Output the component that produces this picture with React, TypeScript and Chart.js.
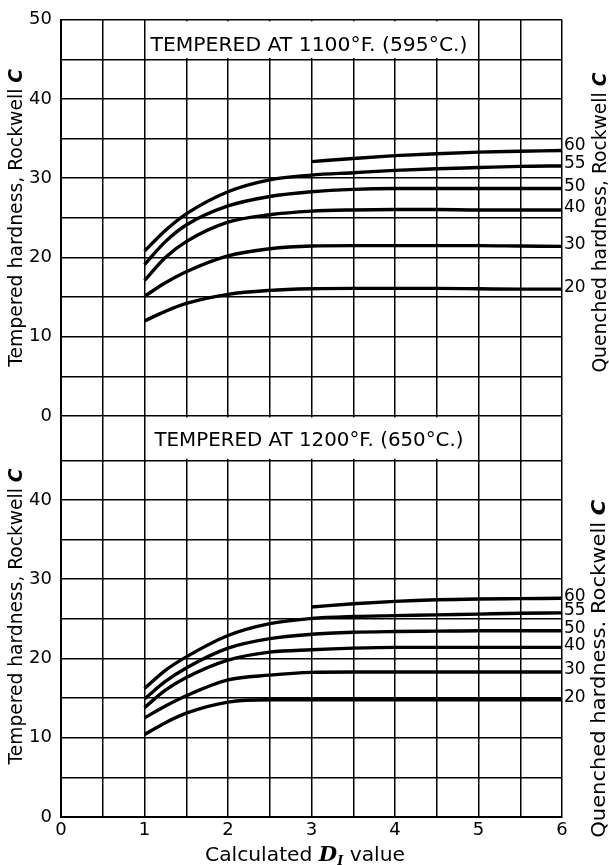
import React, { useEffect, useRef } from 'react';
import { Chart, registerables } from 'chart.js';

Chart.register(...registerables);

// ---------------- data ----------------
const DI_FULL = [1, 1.25, 1.5, 2, 2.5, 3, 3.5, 4, 4.5, 5, 5.5, 6];
const DI_HIGH = [3, 3.5, 4, 4.5, 5, 5.5, 6];
const QUENCHED = [60, 55, 50, 40, 30, 20];

// Tempered at 1100 F (595 C)
const T1100_Q60 = [32.1, 32.5, 32.85, 33.1, 33.3, 33.4, 33.5];
const T1100_Q55 = [20.8, 23.4, 25.5, 28.3, 29.8, 30.4, 30.7, 31.0, 31.2, 31.35, 31.5, 31.55];
const T1100_Q50 = [19.1, 22.0, 24.1, 26.5, 27.7, 28.3, 28.6, 28.7, 28.7, 28.7, 28.7, 28.7];
const T1100_Q40 = [17.1, 20.0, 22.0, 24.45, 25.4, 25.85, 26.0, 26.05, 26.05, 26.0, 26.0, 26.0];
const T1100_Q30 = [15.1, 16.8, 18.2, 20.2, 21.1, 21.45, 21.5, 21.5, 21.5, 21.5, 21.45, 21.4];
const T1100_Q20 = [12.0, 13.2, 14.2, 15.35, 15.85, 16.05, 16.1, 16.1, 16.1, 16.05, 16.0, 16.0];

// Tempered at 1200 F (650 C)
const T1200_Q60 = [26.5, 26.9, 27.2, 27.4, 27.5, 27.55, 27.6];
const T1200_Q55 = [16.2, 18.5, 20.2, 22.9, 24.4, 25.05, 25.3, 25.4, 25.5, 25.6, 25.7, 25.75];
const T1200_Q50 = [14.9, 17.1, 18.8, 21.3, 22.5, 23.05, 23.3, 23.4, 23.45, 23.5, 23.5, 23.5];
const T1200_Q40 = [13.8, 16.0, 17.6, 19.8, 20.8, 21.1, 21.3, 21.4, 21.4, 21.4, 21.4, 21.4];
const T1200_Q30 = [12.5, 14.0, 15.3, 17.3, 17.9, 18.25, 18.3, 18.3, 18.3, 18.3, 18.3, 18.3];
const T1200_Q20 = [10.4, 11.9, 13.1, 14.5, 14.8, 14.8, 14.8, 14.8, 14.8, 14.8, 14.8, 14.8];

const X_TICK_LABELS = [0, 1, 2, 3, 4, 5, 6];
const Y_TICK_LABELS_TOP = [0, 10, 20, 30, 40, 50];
const Y_TICK_LABELS_BOTTOM = [0, 10, 20, 30, 40];
const Y_GRID_TOP = [0, 5, 10, 15, 20, 25, 30, 35, 40, 45, 50];
const Y_GRID_BOTTOM = [0, 5, 10, 15, 20, 25, 30, 35, 40, 45];

const TITLE_1100 = 'TEMPERED AT 1100°F. (595°C.)';
const TITLE_1200 = 'TEMPERED AT 1200°F. (650°C.)';
const Y_TITLE = 'Tempered hardness, Rockwell ';
const RIGHT_TITLE_TOP = 'Quenched hardness, Rockwell ';
const RIGHT_TITLE_BOTTOM = 'Quenched hardness. Rockwell ';
const X_TITLE_A = 'Calculated ';
const X_TITLE_B = ' value';

// ---------------- styling ----------------
const INK = '#000';
const SANS = '"DejaVu Sans", "Liberation Sans", sans-serif';
const SERIF = '"DejaVu Serif", "Liberation Serif", serif';

type Run = { text: string; font: string; dy?: number };

function drawRuns(
  ctx: CanvasRenderingContext2D,
  runs: Run[],
  cx: number,
  cy: number,
  angle: number,
  target: number,
  shift: number
) {
  ctx.save();
  ctx.translate(cx, cy);
  ctx.rotate(angle);
  ctx.textAlign = 'left';
  ctx.textBaseline = 'alphabetic';
  ctx.fillStyle = INK;
  const widths = runs.map((r) => {
    ctx.font = r.font;
    return ctx.measureText(r.text).width;
  });
  const total = widths.reduce((a, b) => a + b, 0);
  const sx = target ? target / total : 1;
  ctx.scale(sx, 1);
  let pos = -total / 2;
  runs.forEach((r, i) => {
    ctx.font = r.font;
    ctx.fillText(r.text, pos, shift + (r.dy || 0));
    pos += widths[i];
  });
  ctx.restore();
}

const PANELS = [
  {
    axis: 'yTop',
    title: TITLE_1100,
    series: [T1100_Q60, T1100_Q55, T1100_Q50, T1100_Q40, T1100_Q30, T1100_Q20],
  },
  {
    axis: 'yBot',
    title: TITLE_1200,
    series: [T1200_Q60, T1200_Q55, T1200_Q50, T1200_Q40, T1200_Q30, T1200_Q20],
  },
];

const annotate = {
  id: 'annotate',
  beforeDatasetsDraw(chart: any) {
    const { ctx, scales } = chart;
    const xs = scales.x;
    const boxes = [
      { s: scales.yTop, title: TITLE_1100, mid: 47.0, width: 317 },
      { s: scales.yBot, title: TITLE_1200, mid: 47.7, width: 309 },
    ];
    boxes.forEach((b) => {
      const left = xs.getPixelForValue(1) + 1.5;
      const right = xs.getPixelForValue(4.96);
      const top = b.s.top + 1.5;
      const bottom = b.s.getPixelForValue(45) - 1.5;
      ctx.save();
      ctx.fillStyle = '#fff';
      ctx.fillRect(left, top, right - left, bottom - top);
      ctx.restore();
      drawRuns(
        ctx,
        [{ text: b.title, font: `19px ${SANS}` }],
        xs.getPixelForValue(2.97),
        b.s.getPixelForValue(b.mid),
        0,
        b.width,
        7
      );
    });
  },
  afterDatasetsDraw(chart: any) {
    const { ctx, scales, chartArea } = chart;
    // quenched hardness labels at line ends
    PANELS.forEach((p, pi) => {
      const s = scales[p.axis];
      p.series.forEach((arr, i) => {
        const last = arr[arr.length - 1];
        let y = s.getPixelForValue(last) - 2;
        if (pi === 0 && i === 0) y -= 3;
        ctx.save();
        ctx.fillStyle = INK;
        ctx.font = `17px ${SANS}`;
        ctx.textAlign = 'left';
        ctx.textBaseline = 'middle';
        ctx.fillText(String(QUENCHED[i]), chartArea.right + 2, y);
        ctx.restore();
      });
    });

    const yTop = scales.yTop;
    const yBot = scales.yBot;
    const boldC = (size: number) => ({ text: 'C', font: `bold italic ${size}px ${SANS}` });
    // left titles
    drawRuns(ctx, [{ text: Y_TITLE, font: `19px ${SANS}` }, boldC(19)], 15, (yTop.top + yTop.bottom) / 2, -Math.PI / 2, 298, 7);
    drawRuns(ctx, [{ text: Y_TITLE, font: `19px ${SANS}` }, boldC(19)], 15, (yBot.top + yBot.bottom) / 2, -Math.PI / 2, 296, 7);
    // right titles
    drawRuns(ctx, [{ text: RIGHT_TITLE_TOP, font: `19px ${SANS}` }, boldC(19)], 599, yTop.getPixelForValue(24.4), -Math.PI / 2, 300, 7);
    drawRuns(ctx, [{ text: RIGHT_TITLE_BOTTOM, font: `20px ${SANS}` }, boldC(20)], 598, yBot.getPixelForValue(18.7), -Math.PI / 2, 338, 7);
    // x title
    drawRuns(
      ctx,
      [
        { text: X_TITLE_A, font: `19px ${SANS}` },
        { text: 'D', font: `bold italic 20px ${SERIF}` },
        { text: 'I', font: `bold italic 12px ${SERIF}`, dy: 4 },
        { text: X_TITLE_B, font: `19px ${SANS}` },
      ],
      305,
      854,
      0,
      200,
      7
    );
  },
};

export default function App() {
  const canvasRef = useRef<HTMLCanvasElement | null>(null);

  useEffect(() => {
    if (!canvasRef.current) return;
    const datasets: any[] = [];
    PANELS.forEach((p) => {
      p.series.forEach((arr, i) => {
        const xs = QUENCHED[i] === 60 ? DI_HIGH : DI_FULL;
        datasets.push({
          label: `${p.title} Q${QUENCHED[i]}`,
          data: xs.map((x, k) => ({ x, y: arr[k] })),
          yAxisID: p.axis,
          xAxisID: 'x',
          borderColor: INK,
          borderWidth: 3.4,
          pointRadius: 0,
          fill: false,
          cubicInterpolationMode: 'monotone',
        });
      });
    });

    const gridOpts = { color: INK, lineWidth: 1.5, drawTicks: false };
    const tickFont = { family: SANS, size: 18 };

    const chart = new Chart(canvasRef.current, {
      type: 'line',
      data: { datasets },
      plugins: [annotate],
      options: {
        animation: false,
        responsive: false,
        maintainAspectRatio: false,
        layout: { padding: { top: 12, right: 47, left: 0, bottom: 0 } },
        plugins: { legend: { display: false }, tooltip: { enabled: false } },
        scales: {
          x: {
            type: 'linear',
            axis: 'x',
            position: 'bottom',
            min: 0,
            max: 6,
            afterFit: (s: any) => {
              s.height = 48;
            },
            ticks: {
              stepSize: 0.5,
              autoSkip: false,
              maxRotation: 0,
              padding: 3,
              color: INK,
              font: tickFont,
              callback: (v: any) => (X_TICK_LABELS.includes(Number(v)) ? String(v) : ''),
            },
            grid: gridOpts,
            border: { color: INK, width: 2 },
          },
          yTop: {
            type: 'linear',
            axis: 'y',
            position: 'left',
            stack: 'panels',
            stackWeight: 400,
            weight: 2,
            min: 0,
            max: 50,
            afterFit: (s: any) => {
              s.width = 61;
            },
            afterBuildTicks: (s: any) => {
              s.ticks = Y_GRID_TOP.map((v) => ({ value: v }));
            },
            ticks: {
              autoSkip: false,
              padding: 9,
              color: INK,
              font: tickFont,
              callback: (v: any) => (Y_TICK_LABELS_TOP.includes(Number(v)) ? String(v) : ''),
            },
            grid: gridOpts,
            border: { color: INK, width: 2 },
          },
          yBot: {
            type: 'linear',
            axis: 'y',
            position: 'left',
            stack: 'panels',
            stackWeight: 405,
            weight: 1,
            min: 0,
            max: 50.6,
            afterFit: (s: any) => {
              s.width = 61;
            },
            afterBuildTicks: (s: any) => {
              s.ticks = Y_GRID_BOTTOM.map((v) => ({ value: v }));
            },
            ticks: {
              autoSkip: false,
              padding: 9,
              color: INK,
              font: tickFont,
              callback: (v: any) => (Y_TICK_LABELS_BOTTOM.includes(Number(v)) ? String(v) : ''),
            },
            grid: gridOpts,
            border: { color: INK, width: 2 },
          },
        },
      } as any,
    });
    return () => chart.destroy();
  }, []);

  return (
    <div style={{ position: 'fixed', left: 0, top: 0, width: 609, height: 865, background: '#fff' }}>
      <canvas ref={canvasRef} width={609} height={865} style={{ display: 'block', width: 609, height: 865 }} />
    </div>
  );
}
